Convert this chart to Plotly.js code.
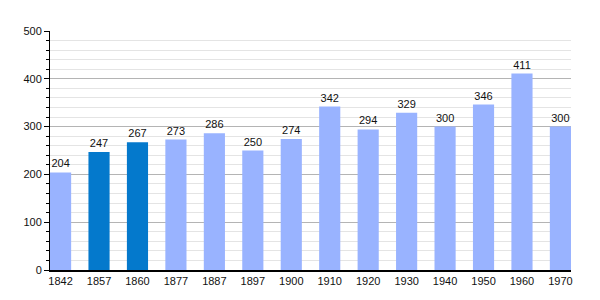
<!DOCTYPE html>
<html><head><meta charset="utf-8">
<script src="https://cdn.plot.ly/plotly-3.0.1.min.js"></script>
<style>html,body{margin:0;padding:0;background:#fff}</style>
</head><body><div id="chart" style="width:600px;height:300px"></div>
<script>
const years = ["1842","1857","1860","1877","1887","1897","1900","1910","1920","1930","1940","1950","1960","1970"];
const population = [204,247,267,273,286,250,274,342,294,329,300,346,411,300];
const highlighted = ["1857","1860"];
const lightColor = "#99b3ff";
const darkColor = "#0479cc";

const colors = years.map(y => highlighted.includes(y) ? darkColor : lightColor);

const trace = {
  type: "bar",
  x: years,
  y: population,
  marker: {color: colors, line: {width: 0}},
  width: 0.55,
  text: population.map(String),
  textposition: "outside",
  cliponaxis: false,
  textfont: {family: "Liberation Sans, Arial, sans-serif", size: 11, color: "#111"},
  hoverinfo: "x+y"
};

const layout = {
  width: 600, height: 300,
  margin: {l: 50, r: 29, t: 31, b: 30},
  paper_bgcolor: "#fff", plot_bgcolor: "#fff",
  font: {family: "Liberation Sans, Arial, sans-serif", size: 11, color: "#111"},
  showlegend: false,
  bargap: 0.45,
  xaxis: {
    type: "category",
    range: [-0.275, 13.275],
    showline: true, linecolor: "#000", linewidth: 1.5,
    ticks: "", showgrid: false,
    tickfont: {size: 11}
  },
  yaxis: {
    range: [0, 500], dtick: 100,
    showline: true, linecolor: "#000", linewidth: 1,
    ticks: "outside", ticklen: 5, tickcolor: "#000",
    showgrid: true, gridcolor: "#b4b4b4", gridwidth: 1,
    zeroline: false,
    tickfont: {size: 11},
    minor: {dtick: 20, showgrid: true, gridcolor: "#e4e4e4", gridwidth: 1, ticks: "outside", ticklen: 3, tickcolor: "#000"}
  }
};

Plotly.newPlot("chart", [trace], layout, {staticPlot: true});
</script></body></html>
